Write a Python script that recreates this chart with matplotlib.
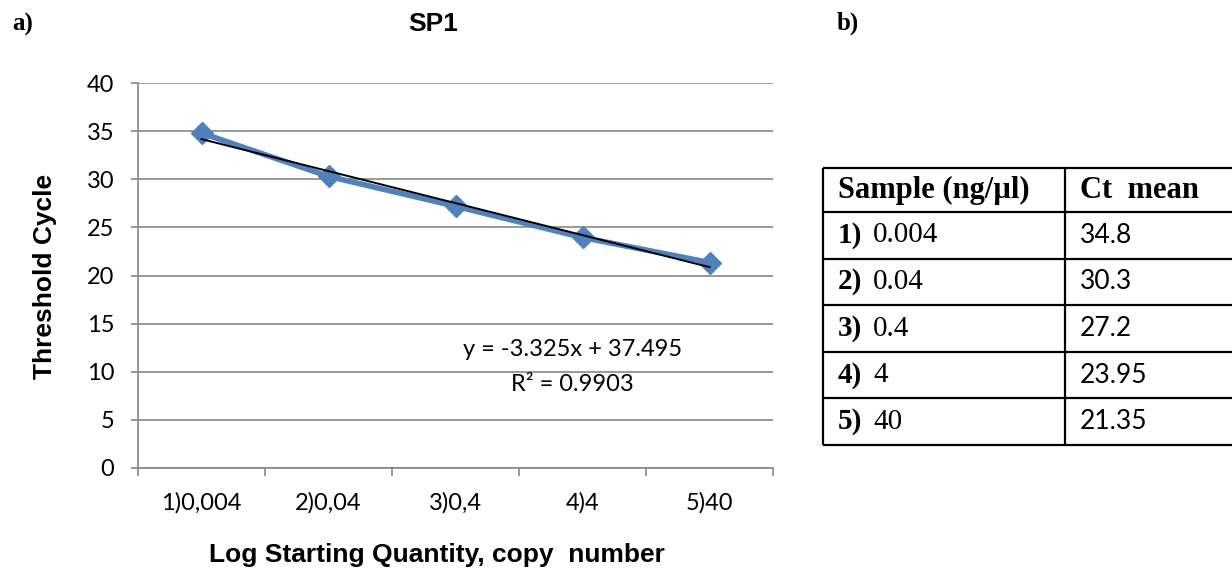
import numpy as np
import matplotlib
matplotlib.use("Agg")
import matplotlib.pyplot as plt

# Standard curve data (SP1)
categories = ["1)0,004", "2)0,04", "3)0,4", "4)4", "5)40"]
ct_mean = [34.8, 30.3, 27.2, 23.95, 21.35]

# Table b)
sample_ids = ["1)", "2)", "3)", "4)", "5)"]
sample_conc = ["0.004", "0.04", "0.4", "4", "40"]
ct_text = ["34.8", "30.3", "27.2", "23.95", "21.35"]

W, H = 1232, 570
BLUE = "#4F81BD"
GRID = "#878787"
SANS = "Liberation Sans"
TICKF = "Lato"
SERIF = "Liberation Serif"

def fx(x):
    return x / W

def fy(y):
    return 1 - y / H

fig = plt.figure(figsize=(W / 100, H / 100), dpi=100)

# ---- a) line chart with linear trendline
ax = fig.add_axes([fx(138), fy(468), fx(773) - fx(138), fy(83) - fy(468)])
x = np.arange(1, len(ct_mean) + 1)
y = np.array(ct_mean)

ax.plot(x, y, color=BLUE, linewidth=4, marker="D", markersize=11,
        markerfacecolor=BLUE, markeredgecolor=BLUE, zorder=3)

slope, intercept = np.polyfit(x, y, 1)
fit = slope * x + intercept
r2 = 1 - np.sum((y - fit) ** 2) / np.sum((y - y.mean()) ** 2)
ax.plot(x, fit, color="black", linewidth=1.4, zorder=4)

ax.set_xlim(0.5, len(ct_mean) + 0.5)
ax.set_ylim(0, 40)
ax.set_yticks(np.arange(0, 41, 5))
ax.set_xticks(x)
ax.set_xticklabels(categories)
ax.set_xticks(np.arange(0.5, len(ct_mean) + 1, 1), minor=True)
ax.tick_params(axis="x", which="major", length=0, pad=17)
ax.tick_params(axis="x", which="minor", length=6, width=1.2, color=GRID)
ax.tick_params(axis="y", length=5, width=1.2, color=GRID, pad=12)
for lab in ax.get_xticklabels() + ax.get_yticklabels():
    lab.set_fontfamily(TICKF)
    lab.set_fontsize(17)

ax.grid(axis="y", color=GRID, linewidth=1.2)
ax.set_axisbelow(True)
for s in ["top", "right"]:
    ax.spines[s].set_visible(False)
for s in ["left", "bottom"]:
    ax.spines[s].set_color(GRID)
    ax.spines[s].set_linewidth(1.2)

eq = f"y = {slope:.3f}x + {intercept:.3f}"
ax.text(3.92, 12.3, eq, ha="center", va="center", family=TICKF, fontsize=17)
ax.text(3.92, 8.7, f"R² = {r2:.4f}", ha="center", va="center", family=TICKF, fontsize=17)

fig.text(fx(433), fy(24), "SP1", ha="center", va="center",
         family=SANS, fontweight="bold", fontsize=19)
fig.text(fx(437), fy(555), "Log Starting Quantity, copy  number", ha="center", va="center",
         family=SANS, fontweight="bold", fontsize=19)
fig.text(fx(45), fy(276), "Threshold Cycle", ha="center", va="center", rotation=90,
         family=SANS, fontweight="bold", fontsize=19)
fig.text(fx(23), fy(24), "a)", ha="center", va="center",
         family=SERIF, fontweight="bold", fontsize=18)
fig.text(fx(848), fy(23), "b)", ha="center", va="center",
         family=SERIF, fontweight="bold", fontsize=18)

# ---- b) table, drawn in pixel coordinates on an overlay axes
tab = fig.add_axes([0, 0, 1, 1])
tab.set_xlim(0, W)
tab.set_ylim(H, 0)
tab.axis("off")

left, mid, right = 823, 1065, 1245
top, head_h, row_h = 168, 44, 46.6
n = len(sample_ids)
ys = [top, top + head_h] + [top + head_h + row_h * (i + 1) for i in range(n)]
tab.hlines(ys, left, right, color="black", linewidth=1.6)
tab.vlines([left, mid], ys[0], ys[-1], color="black", linewidth=1.6)

tab.text(838, top + head_h / 2, "Sample (ng/µl)", ha="left", va="center",
         family=SERIF, fontweight="bold", fontsize=22)
tab.text(1080, top + head_h / 2, "Ct  mean", ha="left", va="center",
         family=SERIF, fontweight="bold", fontsize=22)
for i in range(n):
    yc = (ys[i + 1] + ys[i + 2]) / 2
    tab.text(838, yc, sample_ids[i], ha="left", va="center",
             family=SERIF, fontweight="bold", fontsize=21)
    tab.text(873, yc, sample_conc[i], ha="left", va="center",
             family=SERIF, fontsize=21)
    tab.text(1080, yc, ct_text[i], ha="left", va="center",
             family=TICKF, fontsize=19)

fig.savefig("out.png", dpi=100)
